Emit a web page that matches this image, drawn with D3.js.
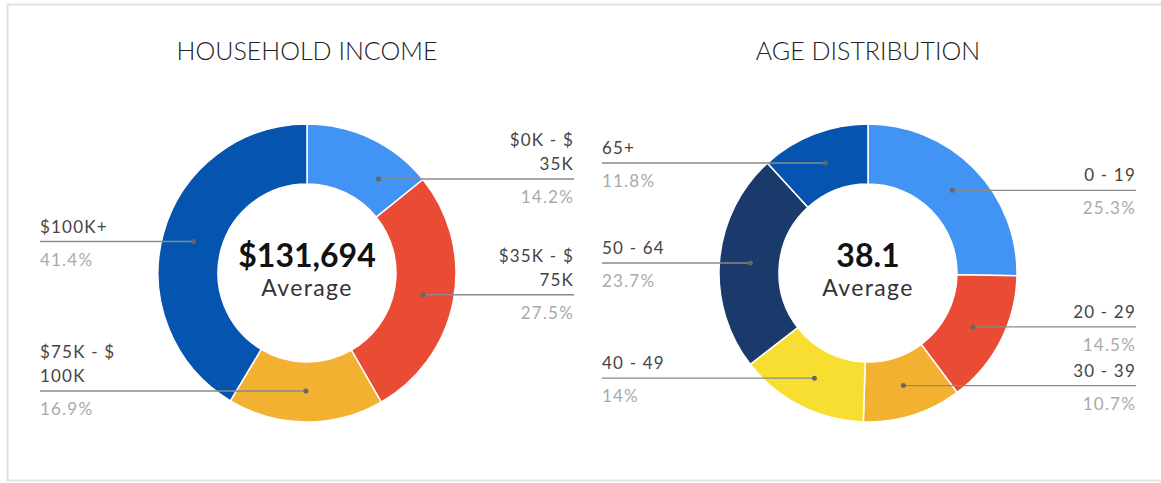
<!DOCTYPE html>
<html>
<head>
<meta charset="utf-8">
<script src="https://cdn.jsdelivr.net/npm/d3@7"></script>
<style>
  body { margin: 0; background: #fff; }
  text { font-family: Lato, "Open Sans", sans-serif; }
</style>
</head>
<body>
<svg id="chart" width="1161" height="483"></svg>
<script>
// household income
const incomeLabels = ["$0K - $\n35K", "$35K - $\n75K", "$75K - $\n100K", "$100K+"];
const incomeValues = [14.2, 27.5, 16.9, 41.4];
const incomeColors = ["#4193f4", "#e94b35", "#f3b132", "#0454b0"];
const incomeAverage = "$131,694";

// age distribution
const ageLabels = ["0 - 19", "20 - 29", "30 - 39", "40 - 49", "50 - 64", "65+"];
const ageValues = [25.3, 14.5, 10.7, 14, 23.7, 11.8];
const ageColors = ["#4193f4", "#e94b35", "#f3b132", "#f8de31", "#1a3a6c", "#0454b0"];
const ageAverage = "38.1";

const svg = d3.select("#chart"),
    width = +svg.attr("width"),
    height = +svg.attr("height");

// light frame around the card
svg.append("rect")
    .attr("x", 7.5).attr("y", 4.5)
    .attr("width", width + 10).attr("height", 476)
    .attr("fill", "none")
    .attr("stroke", "#e2e2e2")
    .attr("stroke-width", 2);

const rOuter = 149, rInner = 89, rMid = 118;
const cy = 273;
const lineH = 24;
const labelTop = 132;

function drawDonut(cx, title, labels, values, colors, average, xLeft, xRight) {
    const g = svg.append("g");

    g.append("text")
        .attr("x", cx).attr("y", 60)
        .attr("text-anchor", "middle")
        .attr("font-size", 25)
        .attr("font-weight", 300)
        .attr("fill", "#222")
        .text(title);

    let data = labels.map((l, i) => ({label: l, value: values[i], color: colors[i]}));
    let pie = d3.pie().sort(null).value(d => d.value);
    let arcs = pie(data);
    let arc = d3.arc().innerRadius(rInner).outerRadius(rOuter);

    g.append("g")
        .attr("transform", "translate(" + cx + "," + cy + ")")
        .selectAll("path")
        .data(arcs)
        .enter()
        .append("path")
        .attr("d", arc)
        .attr("fill", d => d.data.color)
        .attr("stroke", "#fff")
        .attr("stroke-width", 1.5);

    // labels with horizontal leader lines
    arcs.forEach(function (a) {
        let mid = (a.startAngle + a.endAngle) / 2;
        let lines = a.data.label.split("\n");
        let y = cy - rMid * Math.cos(mid);
        y = Math.max(y, labelTop + lines.length * lineH - 1);
        let right = Math.sin(mid) >= 0;
        let dy = y - cy;
        let dx = Math.sqrt(Math.max(0, rMid * rMid - dy * dy));
        let dotX = right ? cx + dx : cx - dx;
        let endX = right ? xRight : xLeft;
        let anchor = right ? "end" : "start";

        g.append("line")
            .attr("x1", dotX).attr("x2", endX)
            .attr("y1", y).attr("y2", y)
            .attr("stroke", "#8a8a8a")
            .attr("stroke-width", 1.3);
        g.append("circle")
            .attr("cx", dotX).attr("cy", y).attr("r", 2.5)
            .attr("fill", "#666");

        lines.forEach(function (t, k) {
            g.append("text")
                .attr("x", endX)
                .attr("y", y - 9 - (lines.length - 1 - k) * lineH)
                .attr("text-anchor", anchor)
                .attr("font-size", 17)
                .attr("letter-spacing", 1.2)
                .attr("fill", "#444")
                .text(t);
        });
        g.append("text")
            .attr("x", endX)
            .attr("y", y + 24)
            .attr("text-anchor", anchor)
            .attr("font-size", 17)
            .attr("letter-spacing", 1.2)
            .attr("fill", "#aaa")
            .text(a.data.value + "%");
    });

    g.append("text")
        .attr("x", cx).attr("y", cy - 6)
        .attr("text-anchor", "middle")
        .attr("font-size", 32)
        .attr("font-weight", 700)
        .attr("fill", "#111")
        .text(average);
    g.append("text")
        .attr("x", cx).attr("y", cy + 23)
        .attr("text-anchor", "middle")
        .attr("font-size", 23)
        .attr("letter-spacing", 1.4)
        .attr("fill", "#333")
        .text("Average");
}

drawDonut(307, "HOUSEHOLD INCOME", incomeLabels, incomeValues, incomeColors, incomeAverage, 40, 574);
drawDonut(868, "AGE DISTRIBUTION", ageLabels, ageValues, ageColors, ageAverage, 602, 1136);
</script>
</body>
</html>
